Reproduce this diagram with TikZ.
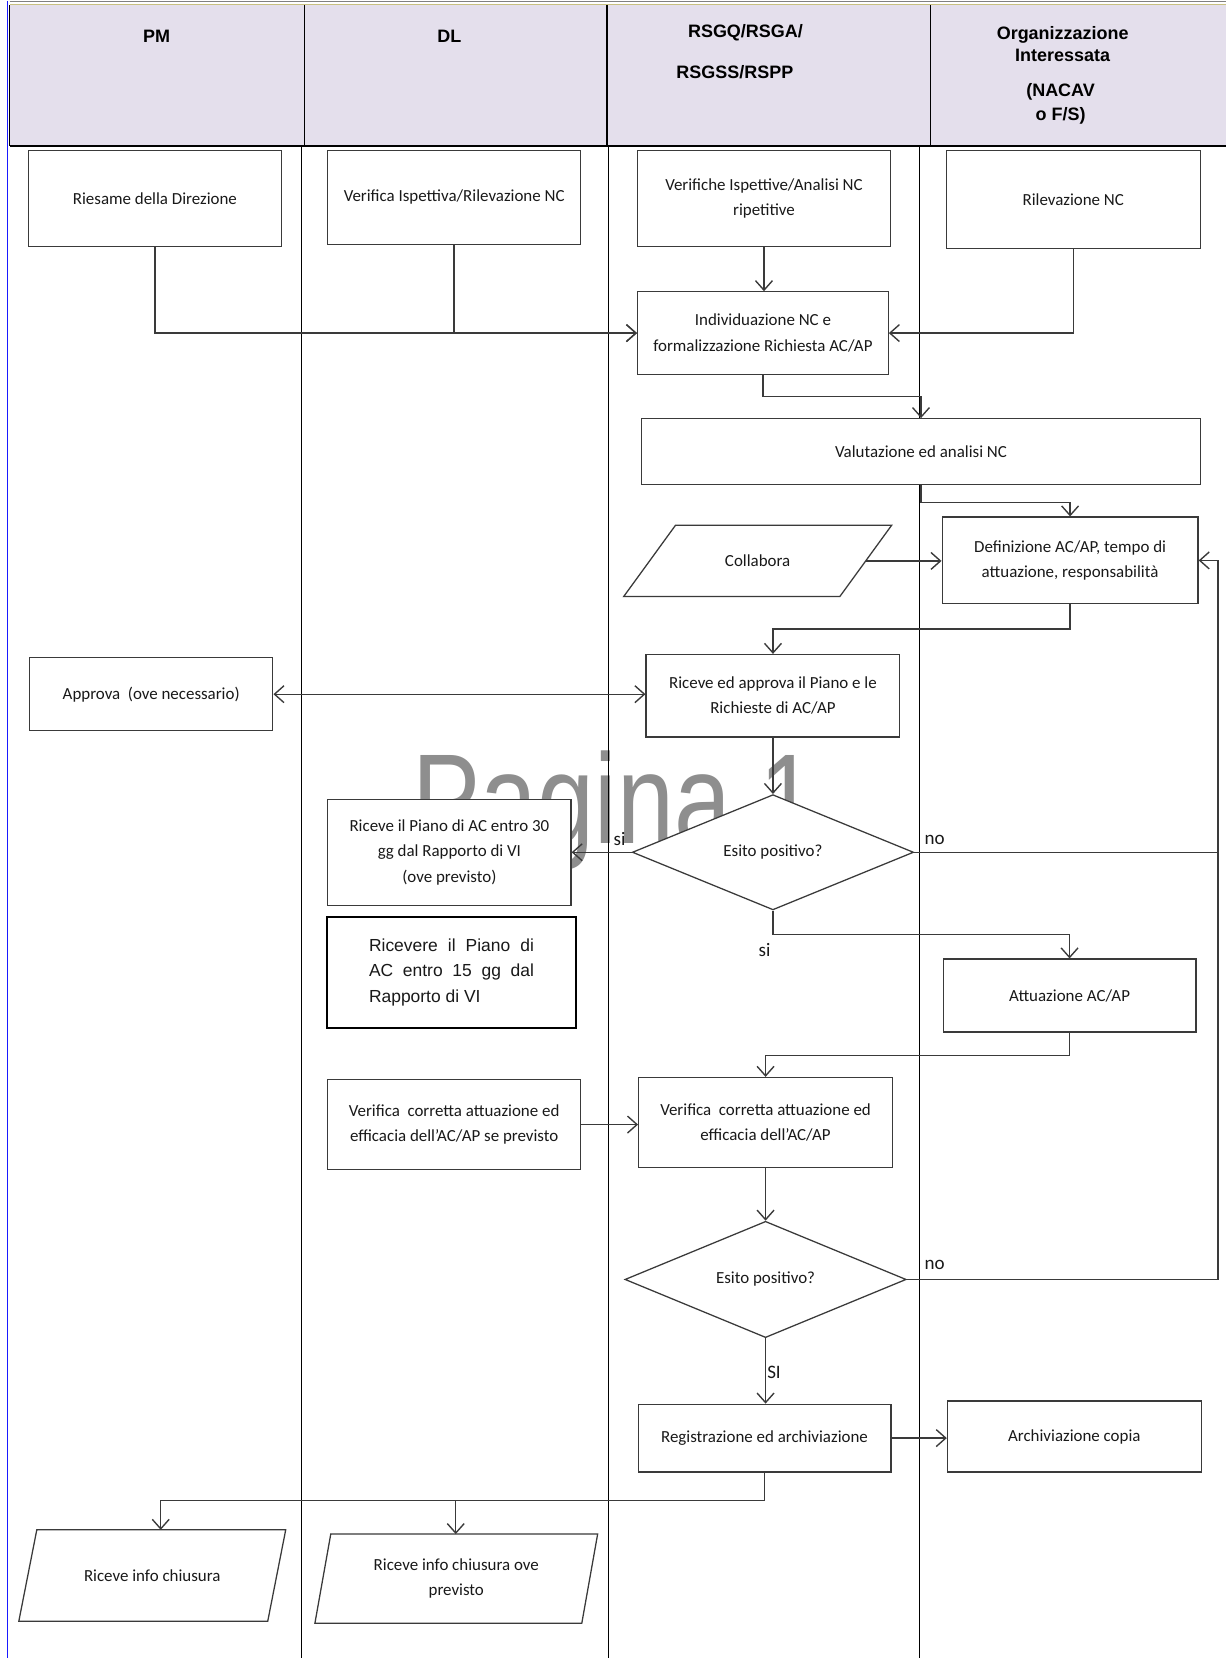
\documentclass[tikz,border=0pt]{standalone}
\usepackage{fontspec}
\setmainfont{Carlito}
\newfontfamily\arialf{Liberation Sans}
\usetikzlibrary{arrows.meta,shapes.geometric}
\definecolor{hdr}{HTML}{E4DFEC}
\definecolor{ln}{HTML}{3A3A3A}
\definecolor{wm}{HTML}{8E8E8E}
\definecolor{bl}{HTML}{1A1AFF}
\definecolor{khaki}{HTML}{C8C080}
\begin{document}
\begin{tikzpicture}[x=1pt,y=-1pt,
 box/.style={draw=ln, line width=1.2pt, fill=white, align=center, inner sep=2pt, font=\fontsize{16}{24}\selectfont, text=black!90},
 dia/.style={diamond, draw=ln, line width=1.2pt, fill=white, inner sep=0pt, font=\fontsize{16}{24}\selectfont, text=black!90},
 ptxt/.style={align=center, inner sep=0pt, font=\fontsize{16}{24}\selectfont, text=black!90},
 pline/.style={draw=ln, line width=1.2pt, line join=miter},
 conn/.style={draw=ln, line width=1.3pt},
 arr/.style={conn, -{Straight Barb[length=9pt,width=16pt,line width=1.3pt]}},
 darr/.style={conn, {Straight Barb[length=9pt,width=16pt,line width=1.3pt]}-{Straight Barb[length=9pt,width=16pt,line width=1.3pt]}},
 hd/.style={font=\arialf\bfseries\fontsize{17}{21}\selectfont, align=center, inner sep=0pt},
 lbl/.style={font=\fontsize{18}{20}\selectfont, inner sep=0pt, text=black!90}
]
\useasboundingbox (0,0) rectangle (1159,1568);
\fill[white] (0,0) rectangle (1159,1568);

% watermark
\node[anchor=base west, inner sep=0pt, text=wm, font=\arialf\fontsize{121}{121}\selectfont] (wmark) at (390,798) {\scalebox{0.8}[1]{Pagina 1}};

% header
\fill[hdr] (9,5) rectangle (1159,138);
\draw[gray, line width=1pt] (9,1.5) -- (1159,1.5);
\draw[khaki, line width=1pt] (9,4) -- (1159,4);
\draw[black, line width=1.5pt] (9,5) -- (9,138);
\draw[black, line width=1.5pt] (288,5) -- (288,138);
\draw[black, line width=1.5pt] (574,5) -- (574,138);
\draw[black, line width=1.5pt] (880,5) -- (880,138);
\draw[black, line width=2.5pt] (9,138) -- (1159,138);
\draw[bl, line width=1.5pt] (7,1) -- (7,1568);

\node[hd] (hPM) at (148,34) {PM};
\node[hd] (hDL) at (425,34) {DL};
\node[hd] (hRS1) at (705,31) {RSGQ/RSGA/};
\node[hd] (hRS2) at (695,68) {RSGSS/RSPP};
\node[hd] (hOrg) at (1005,42) {Organizzazione\\Interessata};
\node[hd, font=\arialf\bfseries\fontsize{17}{23}\selectfont] (hNac) at (1003,98.5) {(NACAV\\o F/S)};

% lane lines
\draw[black, line width=1pt] (285,138) -- (285,1568);
\draw[black, line width=1pt] (575.5,138) -- (575.5,1568);
\draw[black, line width=1pt] (870,138) -- (870,1568);

% nodes
\node[box, minimum width=239pt, minimum height=91pt] (riesame) at (146.5,187.5) {Riesame della Direzione};
\node[box, minimum width=239pt, minimum height=89pt] (verif1) at (429.5,186.5) {Verifica Ispettiva/Rilevazione NC};
\node[box, minimum width=239pt, minimum height=91pt] (verifiche) at (722.5,187.5) {Verifiche Ispettive/Analisi NC\\ripetitive};
\node[box, minimum width=240pt, minimum height=93pt] (rilev) at (1015,188.5) {Rilevazione NC};
\node[box, minimum width=237pt, minimum height=78pt] (indiv) at (721.5,315) {Individuazione NC e\\formalizzazione Richiesta AC/AP};
\node[box, minimum width=528pt, minimum height=62pt] (valut) at (871,427) {Valutazione ed analisi NC};
\node[ptxt, minimum width=204pt, minimum height=67pt] (collab) at (716.5,530.5) {Collabora};
\draw[pline] ([xshift=-24.5pt]collab.south west) -- ([xshift=24.5pt]collab.north west) -- ([xshift=24.5pt]collab.north east) -- ([xshift=-24.5pt]collab.south east) -- cycle;
\node[box, minimum width=242pt, minimum height=82pt] (defin) at (1012,530) {Definizione AC/AP, tempo di\\attuazione, responsabilità};
\node[box, minimum width=230pt, minimum height=69pt] (approva) at (143,656.5) {Approva\ \ (ove necessario)};
\node[box, minimum width=240pt, minimum height=78pt] (riceveapp) at (731,658) {Riceve ed approva il Piano e le\\Richieste di AC/AP};
\node[box, minimum width=230pt, minimum height=100pt] (ricevepiano) at (425,806) {Riceve il Piano di AC entro 30\\gg dal Rapporto di VI\\(ove previsto)};
\node[box, draw=black, line width=1.8pt, align=left, minimum width=236pt, minimum height=105pt, font=\arialf\fontsize{16.5}{24}\selectfont] (ricevere15) at (427,919.5) {\makebox[156pt][s]{Ricevere il Piano di}\\\makebox[156pt][s]{AC entro 15 gg dal}\\Rapporto di VI};
\node[dia, minimum width=266pt, minimum height=109pt] (dia1) at (731,806) {Esito positivo?};
\node[box, minimum width=239pt, minimum height=69pt] (attuaz) at (1011.5,941.5) {Attuazione AC/AP};
\node[box, minimum width=239pt, minimum height=85pt] (verDL) at (429.5,1063.5) {Verifica\ \ corretta attuazione ed\\efficacia dell'AC/AP se previsto};
\node[box, minimum width=240pt, minimum height=85pt] (verRS) at (724,1061.5) {Verifica\ \ corretta attuazione ed\\efficacia dell'AC/AP};
\node[dia, minimum width=266pt, minimum height=110pt] (dia2) at (724,1210) {Esito positivo?};
\node[box, minimum width=239pt, minimum height=64pt] (registr) at (723,1360) {Registrazione ed archiviazione};
\node[box, minimum width=240pt, minimum height=67pt] (archiv) at (1016,1358.5) {Archiviazione copia};
\node[ptxt, minimum width=235pt, minimum height=86pt] (info1) at (144,1490) {Riceve info chiusura};
\draw[pline] ([xshift=-8.5pt]info1.south west) -- ([xshift=8.5pt]info1.north west) -- ([xshift=8.5pt]info1.north east) -- ([xshift=-8.5pt]info1.south east) -- cycle;
\node[ptxt, minimum width=252pt, minimum height=84pt] (info2) at (431.5,1493) {Riceve info chiusura ove\\previsto};
\draw[pline] ([xshift=-7.5pt]info2.south west) -- ([xshift=7.5pt]info2.north west) -- ([xshift=7.5pt]info2.north east) -- ([xshift=-7.5pt]info2.south east) -- cycle;

% labels
\node[lbl] (lsi1) at (586,793) {si};
\node[lbl] (lno1) at (884,794) {no};
\node[lbl] (lsi2) at (723,898) {si};
\node[lbl] (lno2) at (884,1196) {no};
\node[lbl] (lSI) at (732,1298) {SI};

% helper coordinates
\coordinate (d1) at (871,375);
\coordinate (e1) at (1012,475);
\coordinate (g1) at (731,595);
\coordinate (l1) at (1011.5,884);
\coordinate (m1) at (724,998);
\coordinate (backx) at (1152,806);
\coordinate (s1) at (152,1419);
\coordinate (s2) at (431,1419);

% connectors
\draw[arr] (riesame.south) |- (indiv.west);
\draw[arr] (verif1.south) |- (indiv.west);
\draw[arr] (verifiche.south) -- (verifiche.south |- indiv.north);
\draw[arr] (rilev.south) |- (indiv.east);
\draw[arr] (indiv.south) |- (d1) -- (valut.north);
\draw[arr] (valut.south) |- (e1) -- (defin.north);
\draw[arr] (collab.east) -- (collab.east -| defin.west);
\draw[arr] (defin.south) |- (g1) -- (riceveapp.north);
\draw[darr] (approva.east) -- (approva.east -| riceveapp.west);
\draw[arr] (riceveapp.south) -- (dia1.north);
\draw[arr] (dia1.west) -- (ricevepiano.east);
\draw[arr] (dia1.east) -- (backx) |- (defin.east);
\draw[arr] (dia1.south) |- (l1) -- (attuaz.north);
\draw[arr] (attuaz.south) |- (m1) -- (verRS.north);
\draw[arr] (verDL.east) -- (verDL.east -| verRS.west);
\draw[arr] (verRS.south) -- (dia2.north);
\draw[conn] (dia2.east) -| (backx);
\draw[arr] (dia2.south) -- (dia2.south |- registr.north);
\draw[arr] (registr.east) -- (registr.east -| archiv.west);
\draw[conn] (registr.south) |- (s1);
\draw[arr] (s1) -- (s1 |- info1.north);
\draw[arr] (s2) -- (s2 |- info2.north);
\end{tikzpicture}
\end{document}
